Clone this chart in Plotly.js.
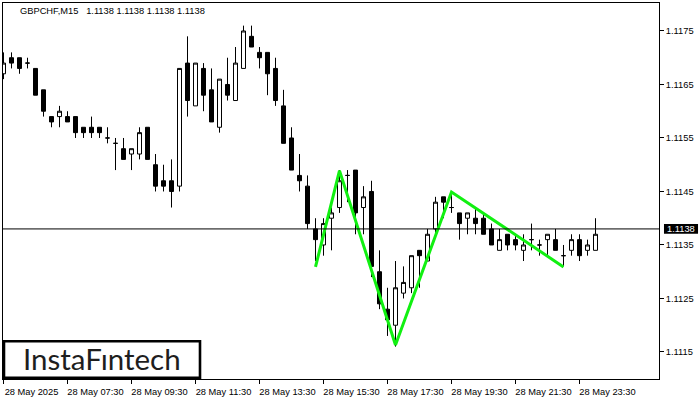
<!DOCTYPE html>
<html><head><meta charset="utf-8">
<script src="https://cdn.plot.ly/plotly-3.0.1.min.js"></script>
<style>html,body{margin:0;padding:0;background:#fff;} #chart{width:700px;height:400px;}</style>
</head><body><div id="chart"></div>
<script>
const symbolTitle = "GBPCHF,M15";
const lastPrice = 1.1138;
const quoteValues = [1.1138, 1.1138, 1.1138, 1.1138];

const openP = [1.1167,1.1170,1.1170,1.1169,1.1168,1.1164,1.1159,1.1159,1.1159,1.1159,
  1.1157,1.1157,1.1157,1.1155,1.1154,1.1153,1.1152,1.1152,1.1157,1.1150,
  1.1147,1.1147,1.1146,1.1169,1.1161,1.1168,1.1164,1.1157,1.1165,1.1162,
  1.1168,1.1174,1.1171,1.1171,1.1168,1.1161,1.1155,1.1148,1.1146,1.1138,
  1.1135,1.1140,1.1142,1.1148,1.1149,1.1142,1.1145,1.1130,1.1123,1.1120,
  1.1126,1.1127,1.1134,1.1132,1.1138,1.1144,1.1142,1.1141,1.1140,1.1140,
  1.1140,1.1138,1.1134,1.1137,1.1136,1.1134,1.1136,1.1135,1.1136,1.1136,
  1.1133,1.1134,1.1136,1.1134,1.1134];
const highP = [1.1171,1.1171,1.1170,1.1170,1.1168,1.1164,1.1159,1.1161,1.1160,1.1159,
  1.1157,1.1159,1.1157,1.1157,1.1155,1.1155,1.1153,1.1157,1.1157,1.1152,
  1.1150,1.1151,1.1168,1.1174,1.1169,1.1169,1.1168,1.1166,1.1170,1.1172,
  1.1176,1.1176,1.1172,1.1171,1.1170,1.1164,1.1157,1.1152,1.1148,1.1140,
  1.1140,1.1142,1.1149,1.1149,1.1149,1.1146,1.1147,1.1134,1.1127,1.1132,
  1.1131,1.1133,1.1134,1.1138,1.1144,1.1144,1.1145,1.1141,1.1141,1.1142,
  1.1141,1.1139,1.1138,1.1137,1.1137,1.1137,1.1139,1.1136,1.1137,1.1138,
  1.1135,1.1137,1.1137,1.1136,1.1140];
const lowP = [1.1166,1.1168,1.1167,1.1168,1.1163,1.1159,1.1157,1.1157,1.1158,1.1155,
  1.1155,1.1155,1.1155,1.1154,1.1149,1.1151,1.1149,1.1151,1.1151,1.1145,
  1.1145,1.1142,1.1145,1.1159,1.1161,1.1160,1.1158,1.1156,1.1162,1.1162,
  1.1168,1.1172,1.1168,1.1163,1.1161,1.1154,1.1149,1.1145,1.1138,1.1132,
  1.1133,1.1134,1.1141,1.1143,1.1137,1.1137,1.1129,1.1123,1.1118,1.1116,
  1.1125,1.1126,1.1127,1.1132,1.1137,1.1140,1.1141,1.1136,1.1137,1.1137,
  1.1137,1.1135,1.1134,1.1134,1.1134,1.1132,1.1134,1.1133,1.1133,1.1134,
  1.1131,1.1133,1.1132,1.1133,1.1134];
const closeP = [1.1169,1.1169,1.1168,1.1169,1.1163,1.1160,1.1158,1.1160,1.1158,1.1156,
  1.1156,1.1156,1.1156,1.1155,1.1154,1.1151,1.1153,1.1156,1.1151,1.1146,
  1.1146,1.1145,1.1168,1.1162,1.1169,1.1163,1.1158,1.1166,1.1163,1.1169,
  1.1175,1.1172,1.1170,1.1167,1.1162,1.1154,1.1149,1.1147,1.1139,1.1136,
  1.1139,1.1141,1.1147,1.1148,1.1141,1.1144,1.1131,1.1124,1.1121,1.1127,
  1.1128,1.1133,1.1133,1.1137,1.1143,1.1143,1.1142,1.1139,1.1141,1.1139,
  1.1137,1.1135,1.1136,1.1135,1.1135,1.1135,1.1136,1.1135,1.1137,1.1134,
  1.1133,1.1136,1.1133,1.1135,1.1137];

const timeTickIdx = [0, 8, 16, 24, 32, 40, 48, 56, 64, 72];
const timeTickText = ["28 May 2025","28 May 07:30","28 May 09:30","28 May 11:30","28 May 13:30",
  "28 May 15:30","28 May 17:30","28 May 19:30","28 May 21:30","28 May 23:30"];
const priceTicks = [1.1115, 1.1125, 1.1135, 1.1145, 1.1155, 1.1165, 1.1175];

const patternIdx = [39, 42, 49, 56, 70];
const patternPrice = [1.11309, 1.11489, 1.11163, 1.11449, 1.11309];

const barIdx = openP.map((_, i) => i);
const FONT = "Liberation Sans, Arial, sans-serif";

const traces = [
  {
    type: "candlestick",
    x: barIdx, open: openP, high: highP, low: lowP, close: closeP,
    increasing: {line: {color: "#000", width: 1}, fillcolor: "#fff"},
    decreasing: {line: {color: "#000", width: 1}, fillcolor: "#000"},
    whiskerwidth: 0, hoverinfo: "skip", showlegend: false
  },
  {
    type: "scatter", mode: "lines",
    x: patternIdx, y: patternPrice,
    line: {color: "#11f011", width: 3},
    hoverinfo: "skip", showlegend: false
  }
];

const layout = {
  width: 700, height: 400,
  margin: {l: 3, r: 41, t: 3, b: 21, pad: 0},
  paper_bgcolor: "#fff", plot_bgcolor: "#fff",
  boxgap: 0.5, boxgroupgap: 0,
  showlegend: false,
  font: {family: FONT, size: 9.3, color: "#000"},
  xaxis: {
    type: "linear",
    range: [-0.0625, 81.9375],
    tickmode: "array", tickvals: timeTickIdx, ticktext: timeTickText,
    ticks: "outside", ticklen: 4, tickcolor: "#000", tickwidth: 1,
    ticklabelshift: 28,
    showline: true, mirror: true, linecolor: "#000", linewidth: 1,
    showgrid: false, zeroline: false,
    rangeslider: {visible: false},
    tickfont: {family: FONT, size: 9.3, color: "#000"},
    fixedrange: true
  },
  yaxis: {
    side: "right",
    range: [1.110995, 1.118023],
    tickmode: "array", tickvals: priceTicks,
    ticktext: priceTicks.map(v => v.toFixed(4)),
    ticks: "outside", ticklen: 4, tickcolor: "#000", tickwidth: 1,
    showline: true, mirror: true, linecolor: "#000", linewidth: 1,
    showgrid: false, zeroline: false,
    tickfont: {family: FONT, size: 9.3, color: "#000"},
    fixedrange: true
  },
  shapes: [
    {type: "line", xref: "paper", x0: 0, x1: 1, yref: "y", y0: lastPrice, y1: lastPrice,
     line: {color: "#000", width: 1}, layer: "above"},
    {type: "rect", xref: "paper", x0: 1.0076, x1: 1.0595, yref: "y",
     y0: lastPrice - 0.00009, y1: lastPrice + 0.00009,
     fillcolor: "#000", line: {width: 0}, layer: "above"},
    {type: "rect", xref: "paper", yref: "paper", x0: 0.0015, x1: 0.3003, y0: 0.0035, y1: 0.1003,
     fillcolor: "#fff", line: {color: "#000", width: 2.6}, layer: "above"}
  ],
  annotations: [
    {xref: "paper", yref: "paper", x: 0.0229, y: 0.98, xanchor: "left", yanchor: "middle",
     showarrow: false, text: symbolTitle + "\u00a0\u00a0 " + quoteValues.map(v => v.toFixed(4)).join(" "),
     font: {family: FONT, size: 9.3, color: "#000"}},
    {xref: "paper", yref: "y", x: 1.0085, y: lastPrice, xanchor: "left", yanchor: "middle",
     showarrow: false, text: lastPrice.toFixed(4),
     font: {family: FONT, size: 9.3, color: "#fff"}},
    {xref: "paper", yref: "paper", x: 0.1505, y: 0.0545, xanchor: "center", yanchor: "middle",
     showarrow: false, text: "InstaF\u0131ntech",
     font: {family: "Lato, sans-serif", size: 29.5, color: "#1e1e1e"}}
  ]
};

Plotly.newPlot("chart", traces, layout, {staticPlot: true, displayModeBar: false});
</script></body></html>
